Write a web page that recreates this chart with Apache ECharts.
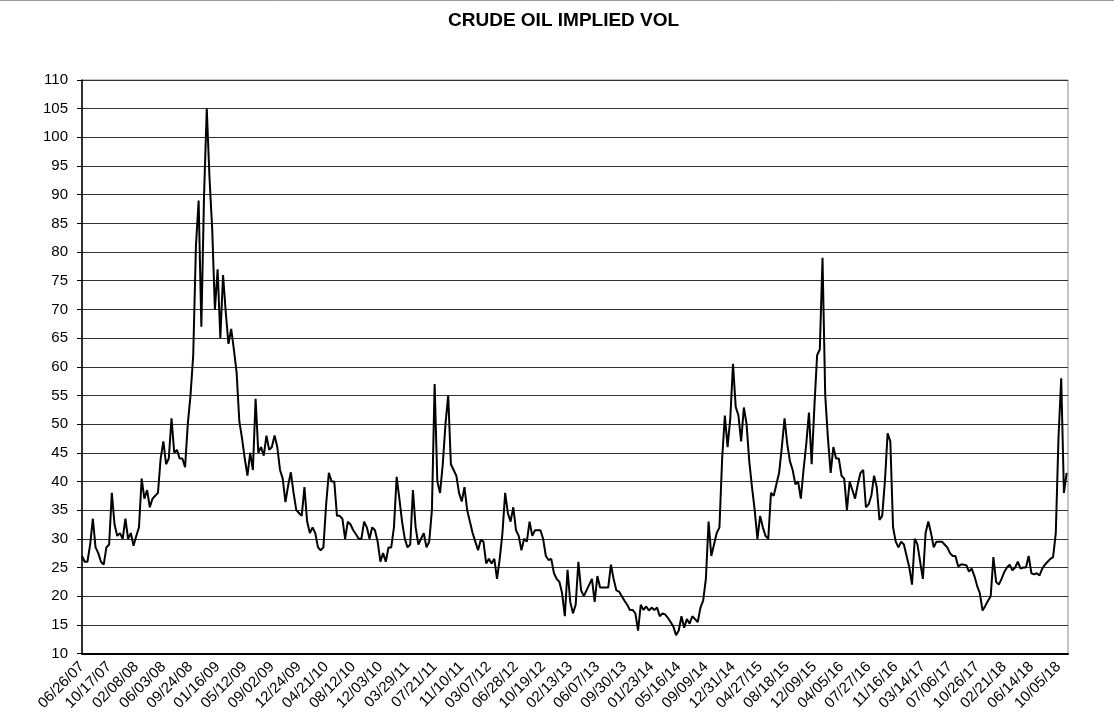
<!DOCTYPE html>
<html>
<head>
<meta charset="utf-8">
<script src="https://cdn.jsdelivr.net/npm/echarts@6/dist/echarts.min.js"></script>
<style>
  html, body { margin: 0; padding: 0; background: #fff; }
  #chart { width: 1114px; height: 720px; }
</style>
</head>
<body>
<div id="chart"></div>
<script>
// ---- data ----
const chartTitle = 'CRUDE OIL IMPLIED VOL';
const tickLabels = ['06/26/07','10/17/07','02/08/08','06/03/08','09/24/08','01/16/09','05/12/09','09/02/09','12/24/09','04/21/10','08/12/10','12/03/10','03/29/11','07/21/11','11/10/11','03/07/12','06/28/12','10/19/12','02/13/13','06/07/13','09/30/13','01/23/14','05/16/14','09/09/14','12/31/14','04/27/15','08/18/15','12/09/15','04/05/16','07/27/16','11/16/16','03/14/17','07/06/17','10/26/17','02/21/18','06/14/18','10/05/18'];
const pointsPerLabel = 10; // sampled points between consecutive date labels
const volValues = [
  27, 26, 26, 29, 33.5, 28.5, 27.5, 26, 25.5, 28.5,
  29, 38, 32.5, 30.5, 31, 30, 33.5, 30, 31, 28.8,
  30.5, 32, 40.5, 37, 38.5, 35.5, 37, 37.5, 38, 44,
  47, 43, 44, 51, 45, 45.5, 44, 44, 42.5, 50,
  55, 62, 81, 89, 67, 90, 105, 93, 84, 70,
  77, 65, 76, 69.5, 64, 66.6, 63, 59, 50.5, 47.5,
  44, 41, 45, 42, 54.4, 45, 46, 44.5, 48, 45.5,
  46, 48, 46, 42, 40.5, 36.4, 39.3, 41.6, 38, 35,
  34.5, 34, 39, 33, 31, 32, 31, 28.5, 28, 28.5,
  36, 41.5, 40, 40, 34, 34, 33.5, 30, 33, 32.5,
  31.5, 30.8, 30, 30, 33, 32, 30, 32, 31.5, 29.5,
  26, 27.5, 26, 28.5, 28.5, 32, 40.8, 37, 33, 30,
  28.5, 29, 38.5, 32, 29, 30, 31, 28.5, 29.5, 35,
  57, 40, 38, 43, 50, 55, 43, 42, 41, 38,
  36.5, 39, 35, 33, 31, 29.5, 28, 29.8, 29.5, 25.7,
  26.5, 25.7, 26.5, 23, 26.5, 31, 38, 34.5, 33, 35.5,
  31.5, 30.5, 28, 30, 29.5, 33, 30.5, 31.5, 31.5, 31.5,
  30, 27, 26.3, 26.5, 24, 23, 22.5, 20.5, 16.5, 24.6,
  19, 17, 18.5, 26, 21, 20, 21, 22, 23, 19,
  23.5, 21.5, 21.5, 21.5, 21.5, 25.5, 23, 21, 20.8, 20,
  19.2, 18.5, 17.6, 17.6, 17, 14, 18.5, 17.6, 18.2, 17.5,
  18, 17.6, 18, 16.5, 17, 16.8, 16.2, 15.5, 14.7, 13.2,
  14, 16.5, 14.5, 16, 15.2, 16.5, 16, 15.5, 18, 19.2,
  23, 33, 27, 29, 31, 32, 44, 51.5, 46, 51,
  60.5, 53, 51.5, 47, 52.9, 50, 43.5, 39, 35, 30,
  34, 32, 30.5, 30, 38, 37.5, 39.5, 41.5, 46, 51,
  46.5, 43.5, 42, 39.5, 40, 37, 42, 46.5, 52, 43,
  53, 62, 63, 79, 55, 47.5, 41.5, 46, 44, 44,
  41, 40.5, 35, 40, 38.5, 37, 39.5, 41.5, 42, 35.5,
  36, 37.5, 41, 39, 33.3, 34, 40, 48.4, 47, 32,
  29.5, 28.5, 29.5, 29, 27, 25, 22, 30, 29, 26,
  23, 31, 33, 31, 28.5, 29.5, 29.5, 29.5, 29, 28.5,
  27.5, 27, 27, 25.2, 25.5, 25.5, 25.4, 24.3, 24.8, 23.5,
  21.8, 20.5, 17.5, 18.3, 19.2, 20, 26.8, 22.5, 22, 23,
  24.2, 25, 25.5, 24.5, 25, 26, 24.8, 25, 25, 27,
  24, 23.8, 24, 23.6, 24.8, 25.5, 26, 26.5, 26.8, 31,
  47.7, 58, 38, 41.5
];
const yMin = 10, yMax = 110, yStep = 5;

// ---- chart ----
const chart = echarts.init(document.getElementById('chart'), null, { renderer: 'canvas' });
const seriesData = volValues.map((v, i) => [i, v]);
const font = 'Liberation Sans, Arial, sans-serif';

chart.setOption({
  animation: false,
  backgroundColor: '#fff',
  title: {
    text: chartTitle,
    left: 443,
    top: 6,
    textStyle: { fontFamily: font, fontSize: 19, fontWeight: 'bold', color: '#000' }
  },
  graphic: [{
    type: 'line',
    shape: { x1: 0, y1: 0.5, x2: 1114, y2: 0.5 },
    style: { stroke: '#999', lineWidth: 1 }
  }],
  grid: {
    left: 82, right: 46, top: 80, bottom: 66.5,
    show: true, borderColor: '#888', borderWidth: 1, backgroundColor: 'transparent'
  },
  xAxis: {
    type: 'value',
    min: 0,
    max: volValues.length - 0.5,
    interval: pointsPerLabel,
    axisLine: { show: true, lineStyle: { color: '#000', width: 2 } },
    axisTick: { show: false },
    splitLine: { show: false },
    axisLabel: {
      rotate: 45,
      margin: 11,
      fontFamily: font,
      fontSize: 15,
      color: '#000',
      showMaxLabel: false,
      formatter: function (v) {
        if (v % pointsPerLabel !== 0) return '';
        return tickLabels[v / pointsPerLabel] || '';
      }
    }
  },
  yAxis: {
    type: 'value',
    min: yMin,
    max: yMax,
    interval: yStep,
    axisLine: { show: true, lineStyle: { color: '#000', width: 1.5 } },
    axisTick: { show: true, length: 5, lineStyle: { color: '#000' } },
    splitLine: { show: true, lineStyle: { color: '#333', width: 1 } },
    axisLabel: { margin: 14, fontFamily: font, fontSize: 15, color: '#000' }
  },
  series: [{
    type: 'line',
    data: seriesData,
    showSymbol: false,
    lineStyle: { color: '#000', width: 2 },
    itemStyle: { color: '#000' }
  }]
});
</script>
</body>
</html>
